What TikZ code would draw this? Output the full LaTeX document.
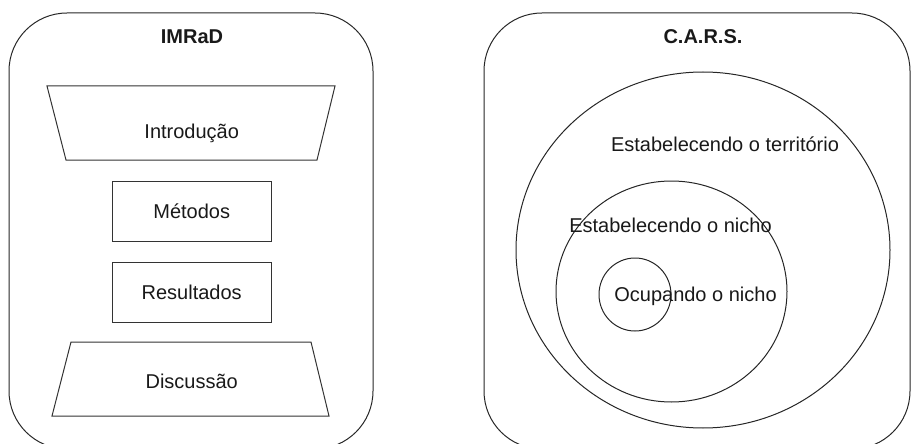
\documentclass[tikz,border=0pt]{standalone}
\usepackage{fontspec}
\setmainfont{Liberation Sans}
\usetikzlibrary{shapes.geometric}
\begin{document}
\begin{tikzpicture}[x=1pt,y=-1pt,
  panel/.style={draw=black!85, line width=1pt, rounded corners=58pt},
  outline/.style={draw=black!80, line width=1pt},
  label/.style={font=\fontsize{20}{24}\selectfont, anchor=base, inner sep=0pt, text=black!90},
  title/.style={label, font=\fontsize{20}{24}\selectfont\bfseries},
  box/.style={outline, rectangle, minimum width=159pt, minimum height=60pt, inner sep=0pt},
  ring/.style={draw=black!85, line width=1pt, ellipse, inner sep=0pt}]
\useasboundingbox (0,0) rectangle (911,444);
\clip (0,0) rectangle (911,444);

% two framing panels
\draw[panel] (9,13) rectangle (373,449);
\draw[panel] (484,13) rectangle (910,449);

% IMRaD structure
\node[title] (imrad) at (192,44) {IMRaD};
\draw[outline] (47,86) -- (335,86) -- (317,160) -- (66,160) -- cycle;
\node[label] (intro) at (191.7,139) {Introdução};
\node[box] (metodos) at (191.5,211) {};
\node[label] (metodosT) at (191.7,218) {Métodos};
\node[box] (resultados) at (191.5,292) {};
\node[label] (resultadosT) at (191.7,299) {Resultados};
\draw[outline] (71,342) -- (311,342) -- (329,416) -- (52,416) -- cycle;
\node[label] (discussao) at (191.7,388) {Discussão};

% C.A.R.S. nested moves
\node[title] (cars) at (703,44) {C.A.R.S.};
\node[ring, minimum width=374pt, minimum height=356pt] (territorio) at (703,250) {};
\node[ring, minimum width=231pt, minimum height=221pt] (nicho) at (671.5,291.5) {};
\node[ring, minimum width=72pt, minimum height=73pt] (ocupando) at (635,294.5) {};
\node[label] (territorioT) at (725,151) {Estabelecendo o território};
\node[label] (nichoT) at (670.5,232) {Estabelecendo o nicho};
\node[label] (ocupandoT) at (695.5,301) {Ocupando o nicho};
\end{tikzpicture}
\end{document}
